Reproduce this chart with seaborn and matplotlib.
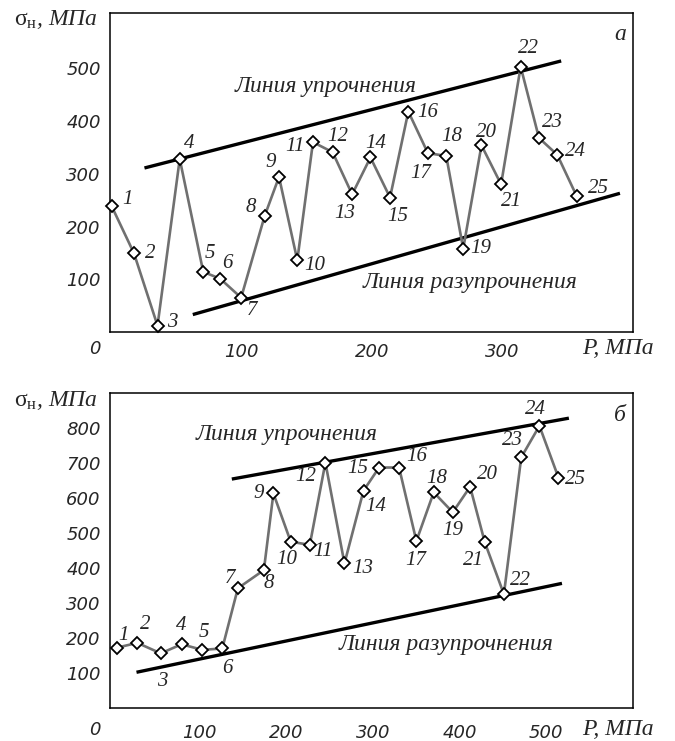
import numpy as np
import pandas as pd
import matplotlib
matplotlib.use('Agg')
import matplotlib.pyplot as plt
import seaborn as sns

# --- data ---
# panel a
p_a = [1, 18, 36, 53, 71, 84, 100, 118, 129, 143, 155, 170, 185, 199, 214,
       228, 243, 257, 270, 284, 299, 314, 328, 342, 357]
s_a = [238, 149, 12, 328, 114, 101, 65, 220, 294, 136, 360, 341, 261, 331, 255,
       418, 339, 334, 158, 354, 280, 503, 368, 336, 257]
upper_a_p = [26, 345]
upper_a_s = [311, 514]
lower_a_p = [63, 390]
lower_a_s = [33, 263]

# panel b
p_b = [4, 28, 55, 79, 103, 126, 144, 174, 185, 205, 227, 245, 267, 289, 307,
       330, 350, 370, 392, 412, 429, 451, 471, 492, 514]
s_b = [173, 187, 157, 183, 167, 171, 343, 395, 614, 476, 467, 702, 414, 622, 688,
       688, 478, 617, 560, 633, 474, 326, 717, 807, 659]
upper_b_p = [137, 526]
upper_b_s = [655, 829]
lower_b_p = [27, 518]
lower_b_s = [103, 357]

point_labels = [str(i) for i in range(1, 26)]

# label offsets in pixels (dx, dy up)
offs_a = [(16, 7), (16, 0), (15, 3), (9, 16), (7, 18), (7, 15), (11, -13), (-14, 8),
          (-8, 14), (17, -5), (-18, -4), (5, 16), (-7, -19), (5, 14), (8, -19),
          (19, -1), (-7, -20), (6, 19), (18, 0), (5, 13), (10, -17), (8, 18),
          (14, 15), (18, 3), (22, 8)]
offs_b = [(7, 12), (8, 18), (2, -28), (0, 19), (2, 17), (5, -20), (-8, 10), (5, -13),
          (-15, 0), (-4, -18), (13, -7), (-20, -14), (18, -5), (12, -16), (-21, -1),
          (18, 11), (-1, -19), (3, 14), (0, -18), (17, 12), (-11, -18), (17, 14),
          (-9, 17), (-4, 16), (17, -2)]

sns.set_style('white')
plt.rcParams['mathtext.fontset'] = 'custom'
plt.rcParams['mathtext.rm'] = 'Liberation Serif'
plt.rcParams['mathtext.it'] = 'Liberation Serif:italic'

num_font = dict(family='Liberation Serif', style='italic', fontsize=15)
big_font = dict(family='Liberation Serif', style='italic', fontsize=17)
tick_font = dict(family='DejaVu Sans', style='oblique', size=13)

fig = plt.figure(figsize=(6.75, 7.41), dpi=100)
ax_a = fig.add_axes([0.1637, 0.5520, 0.7741, 0.4305])
ax_b = fig.add_axes([0.1637, 0.0441, 0.7741, 0.4251])


def draw_panel(ax, p, s, up_p, up_s, lo_p, lo_s, offs, xlim, ylim, xticks, yticks, pad):
    ax.plot(up_p, up_s, color='black', lw=2.4, solid_capstyle='butt')
    ax.plot(lo_p, lo_s, color='black', lw=2.4, solid_capstyle='butt')
    df = pd.DataFrame({'P': p, 's': s})
    sns.lineplot(data=df, x='P', y='s', sort=False, ax=ax, color='#707070', lw=1.9,
                 marker='D', markersize=5.8, markerfacecolor='white',
                 markeredgecolor='black', markeredgewidth=1.3, clip_on=False, zorder=5)
    for lab, x, y, (dx, dy) in zip(point_labels, p, s, offs):
        ax.annotate(lab, (x, y), xytext=(dx, dy), textcoords='offset pixels',
                    ha='center', va='center', **num_font)
    ax.set_xlim(*xlim)
    ax.set_ylim(*ylim)
    ax.set_xticks(xticks)
    ax.set_yticks(yticks)
    ax.set_xticklabels([str(t) for t in xticks], **tick_font)
    ax.set_yticklabels([str(t) for t in yticks], **tick_font)
    ax.tick_params(direction='in', length=7.5, width=1.1, color='black')
    ax.tick_params(axis='x', pad=pad)
    ax.tick_params(axis='y', pad=7)
    ax.set_xlabel('')
    ax.set_ylabel('')
    for sp in ax.spines.values():
        sp.set_visible(True)
        sp.set_color('black')
        sp.set_linewidth(1.1)
    ax.annotate('0', (0, 0), xycoords='axes fraction', xytext=(-16, -17 - (pad - 8) * 1.4),
                textcoords='offset pixels', ha='center', va='center', **tick_font)
    ax.annotate('P, МПа', (1, 0), xycoords='axes fraction', xytext=(-51, -17 - (pad - 8) * 1.4),
                textcoords='offset pixels', ha='left', va='center', **big_font)
    ax.annotate(r'$\mathrm{\sigma}_{\mathrm{н}}$, МПа', (0, 1), xycoords='axes fraction',
                xytext=(-13, -7), textcoords='offset pixels', ha='right', va='center', **big_font)


draw_panel(ax_a, p_a, s_a, upper_a_p, upper_a_s, lower_a_p, lower_a_s, offs_a,
           (0, 400), (0, 605), [100, 200, 300], [100, 200, 300, 400, 500], 8)
ax_a.text(165, 466, 'Линия упрочнения', ha='center', va='center', **big_font)
ax_a.text(275, 94, 'Линия разупрочнения', ha='center', va='center', **big_font)
ax_a.text(390, 565, 'а', ha='center', va='center', **big_font)

draw_panel(ax_b, p_b, s_b, upper_b_p, upper_b_s, lower_b_p, lower_b_s, offs_b,
           (-3, 600), (0, 900), [100, 200, 300, 400, 500],
           [100, 200, 300, 400, 500, 600, 700, 800], 11)
ax_b.text(200, 781, 'Линия упрочнения', ha='center', va='center', **big_font)
ax_b.text(384, 181, 'Линия разупрочнения', ha='center', va='center', **big_font)
ax_b.text(585, 838, 'б', ha='center', va='center', **big_font)

fig.savefig('out.png', dpi=100)
